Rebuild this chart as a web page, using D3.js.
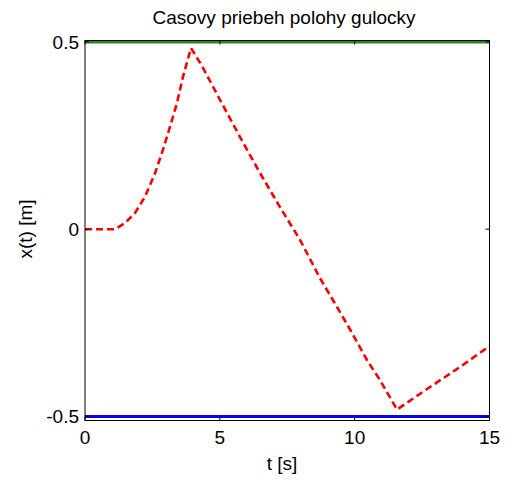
<!DOCTYPE html>
<html>
<head>
<meta charset="utf-8">
<script src="https://cdn.jsdelivr.net/npm/d3@7"></script>
<style>
  body { margin: 0; background: #fff; }
  text { font-family: "Liberation Sans", Arial, sans-serif; fill: #000; }
</style>
</head>
<body>
<svg id="chart" width="507" height="482"></svg>
<script>
//////////////////// DATA ////////////////////
// time [s] and ball position [m]
const timeValues = [0, 1.1, 1.48, 1.85, 2.22, 2.6, 2.89, 3.15, 3.41, 3.63, 3.93,
    4.34, 5.01, 5.75, 6.49, 7.23, 7.97, 8.71, 9.46, 9.83, 10.46, 10.94, 11.57,
    12.68, 13.91, 15];
const positionValues = [0, 0, 0.016, 0.043, 0.086, 0.15, 0.212, 0.273, 0.337, 0.406, 0.484,
    0.436, 0.345, 0.246, 0.15, 0.059, -0.028, -0.13, -0.222, -0.268, -0.35, -0.403, -0.482,
    -0.427, -0.368, -0.312];

// limits of the track
const upperLimit = [0.5, 0.5];
const lowerLimit = [-0.5, -0.5];
const limitTimes = [0, 15];

// tick labels
const xTicks = [0, 5, 10, 15];
const yTicks = [-0.5, 0, 0.5];
const yTickLabels = ["-0.5", "0", "0.5"];

const titleText = "Casovy priebeh polohy gulocky";
const xLabelText = "t [s]";
const yLabelText = "x(t) [m]";

//////////////////// SIZES ////////////////////
const plot = { left: 85, right: 489.5, top: 40.5, bottom: 420.5 };
const fontSize = 19;
const svg = d3.select("#chart");

//////////////////// SCALES ////////////////////
const xScale = d3.scaleLinear().domain([0, 15]).range([plot.left, plot.right]);
const yScale = d3.scaleLinear().domain([-0.511, 0.504]).range([plot.bottom, plot.top]);

//////////////////// LINES ////////////////////
const line = d3.line()
    .x(d => xScale(d[0]))
    .y(d => yScale(d[1]));

// green upper limit
svg.append("path")
    .attr("d", line(limitTimes.map((t, i) => [t, upperLimit[i]])))
    .attr("fill", "none")
    .attr("stroke", "#1e8c1e")
    .attr("stroke-width", 3);

// blue lower limit
svg.append("path")
    .attr("d", line(limitTimes.map((t, i) => [t, lowerLimit[i]])))
    .attr("fill", "none")
    .attr("stroke", "#0000ff")
    .attr("stroke-width", 3);

// red dashed position
svg.append("path")
    .attr("d", line(timeValues.map((t, i) => [t, positionValues[i]])))
    .attr("fill", "none")
    .attr("stroke", "#ff0000")
    .attr("stroke-width", 2.6)
    .attr("stroke-dasharray", "7,4");

//////////////////// AXES ////////////////////
// box
svg.append("rect")
    .attr("x", plot.left)
    .attr("y", plot.top)
    .attr("width", plot.right - plot.left)
    .attr("height", plot.bottom - plot.top)
    .attr("fill", "none")
    .attr("stroke", "#000")
    .attr("stroke-width", 1);

// inward ticks on all four sides
const tickLen = 4;
xTicks.forEach(t => {
    const x = xScale(t);
    svg.append("line").attr("x1", x).attr("x2", x)
        .attr("y1", plot.bottom).attr("y2", plot.bottom - tickLen)
        .attr("stroke", "#000");
    svg.append("line").attr("x1", x).attr("x2", x)
        .attr("y1", plot.top).attr("y2", plot.top + tickLen)
        .attr("stroke", "#000");
    svg.append("text")
        .attr("x", x)
        .attr("y", 444)
        .attr("text-anchor", "middle")
        .attr("font-size", fontSize)
        .text(t);
});

yTicks.forEach((v, i) => {
    const y = yScale(v);
    svg.append("line").attr("x1", plot.left).attr("x2", plot.left + tickLen)
        .attr("y1", y).attr("y2", y)
        .attr("stroke", "#000");
    svg.append("line").attr("x1", plot.right).attr("x2", plot.right - tickLen)
        .attr("y1", y).attr("y2", y)
        .attr("stroke", "#000");
    svg.append("text")
        .attr("x", 79)
        .attr("y", y + 7)
        .attr("text-anchor", "end")
        .attr("font-size", fontSize)
        .text(yTickLabels[i]);
});

//////////////////// TEXT ////////////////////
svg.append("text")
    .attr("x", 284)
    .attr("y", 24)
    .attr("text-anchor", "middle")
    .attr("font-size", fontSize)
    .text(titleText);

svg.append("text")
    .attr("x", 282)
    .attr("y", 470)
    .attr("text-anchor", "middle")
    .attr("font-size", fontSize)
    .text(xLabelText);

svg.append("text")
    .attr("transform", "translate(32, 229) rotate(-90)")
    .attr("text-anchor", "middle")
    .attr("font-size", fontSize)
    .text(yLabelText);
</script>
</body>
</html>
